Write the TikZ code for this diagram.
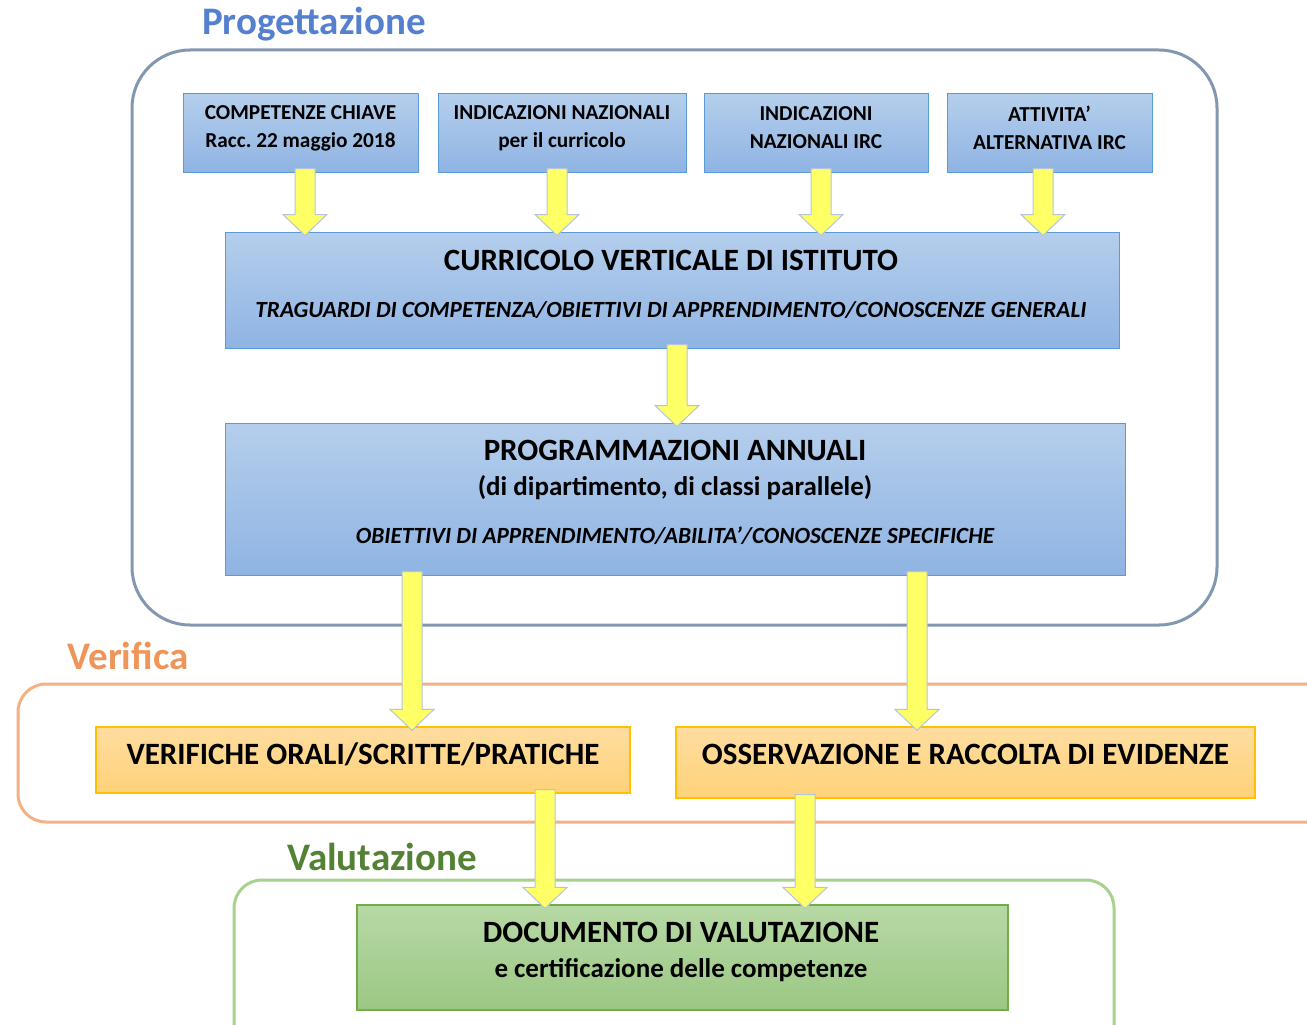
\documentclass[tikz,border=0pt]{standalone}
\usepackage{fontspec}
\setmainfont{Carlito}
\usetikzlibrary{calc}

\definecolor{progtitle}{HTML}{5580D0}
\definecolor{progline}{HTML}{8497B0}
\definecolor{veriftitle}{HTML}{F0955A}
\definecolor{verifline}{HTML}{F4B183}
\definecolor{valtitle}{HTML}{548235}
\definecolor{valline}{HTML}{A9D18E}
\definecolor{bluetop}{HTML}{B5CEEC}
\definecolor{bluebot}{HTML}{8FB4E3}
\definecolor{blueedge}{HTML}{5B9BD5}
\definecolor{orangetop}{HTML}{FFDDA0}
\definecolor{orangebot}{HTML}{FFD279}
\definecolor{orangeedge}{HTML}{FFC000}
\definecolor{greentop}{HTML}{B7D9A5}
\definecolor{greenbot}{HTML}{9BC784}
\definecolor{greenedge}{HTML}{70AD47}
\definecolor{arrowfill}{HTML}{FFFF66}
\definecolor{arrowedge}{HTML}{B4C4DC}

\tikzset{
  bluebox/.style={draw=blueedge, line width=1pt, top color=bluetop, bottom color=bluebot, rectangle, inner sep=0pt},
  orangebox/.style={draw=orangeedge, line width=1.2pt, top color=orangetop, bottom color=orangebot, rectangle, inner sep=0pt},
  greenbox/.style={draw=greenedge, line width=1.2pt, top color=greentop, bottom color=greenbot, rectangle, inner sep=0pt},
  grouptitle/.style={font=\fontsize{39}{39}\selectfont\bfseries, inner sep=0pt},
  smalltext/.style={font=\fontsize{21.3}{28}\selectfont\bfseries, align=center, inner sep=0pt},
  bigtext/.style={font=\fontsize{31}{31}\selectfont\bfseries, inner sep=0pt},
  midtext/.style={font=\fontsize{27}{27}\selectfont\bfseries, inner sep=0pt},
  ittext/.style={font=\fontsize{23.2}{23}\selectfont\bfseries\itshape, inner sep=0pt},
  yelarrow/.style={draw=arrowedge, line width=1pt, fill=arrowfill, line join=miter}
}

% block arrow at x=#1, from node anchor #2 down to node anchor #3
\newcommand{\blockarrow}[3]{%
  \draw[yelarrow] let \p1=(#2), \p2=(#3) in
    (#1pt-10pt,\y1+4pt) -- (#1pt+10pt,\y1+4pt) -- (#1pt+10pt,\y2+17pt)
    -- (#1pt+22pt,\y2+17pt) -- (#1pt,\y2-4pt) -- (#1pt-22pt,\y2+17pt)
    -- (#1pt-10pt,\y2+17pt) -- cycle;}

\begin{document}
\begin{tikzpicture}[x=1pt, y=-1pt]
\clip (0,0) rectangle (1307,1025);
\useasboundingbox (0,0) rectangle (1307,1025);
\fill[white] (0,0) rectangle (1307,1025);

% Group frames
\draw[progline, line width=3pt, rounded corners=58pt] (132,50) rectangle (1217,625);
\draw[verifline, line width=3pt, rounded corners=28pt] (18,684) rectangle (1360,822);
\draw[valline, line width=3pt, rounded corners=28pt] (234,880) rectangle (1114,1070);

% Group titles
\node[grouptitle, text=progtitle] (tprog) at (314,24) {Progettazione};
\node[grouptitle, text=veriftitle] (tverif) at (128,656) {Verifica};
\node[grouptitle, text=valtitle] (tval) at (382,857) {Valutazione};

% Sources (top row)
\node[bluebox, minimum width=235pt, minimum height=78pt] (comp) at (300.5,133) {};
\node[smalltext] (compt) at (300.5,128) {COMPETENZE CHIAVE\\Racc.\ 22 maggio 2018};
\node[bluebox, minimum width=248pt, minimum height=78pt] (indic) at (562,133) {};
\node[smalltext] (indict) at (562,128) {INDICAZIONI NAZIONALI\\per il curricolo};
\node[bluebox, minimum width=224pt, minimum height=78pt] (irc) at (816,133) {};
\node[smalltext] (irct) at (816,128) {INDICAZIONI\\NAZIONALI IRC};
\node[bluebox, minimum width=205pt, minimum height=78pt] (alt) at (1049.5,133) {};
\node[smalltext] (altt) at (1049.5,128) {ATTIVITA’\\ALTERNATIVA IRC};

% Curricolo
\node[bluebox, minimum width=894pt, minimum height=116pt] (curr) at (672,290) {};
\node[bigtext] (currt) at (671,260) {CURRICOLO VERTICALE DI ISTITUTO};
\node[ittext] (curri) at (671,310) {TRAGUARDI DI COMPETENZA/OBIETTIVI DI APPRENDIMENTO/CONOSCENZE GENERALI};

% Programmazioni
\node[bluebox, minimum width=900pt, minimum height=152pt] (prog) at (675,499) {};
\node[bigtext] (progt) at (675,450) {PROGRAMMAZIONI ANNUALI};
\node[midtext] (progs) at (675,488) {(di dipartimento, di classi parallele)};
\node[ittext] (progi) at (675,536) {OBIETTIVI DI APPRENDIMENTO/ABILITA’/CONOSCENZE SPECIFICHE};

% Verifica
\node[orangebox, minimum width=534pt, minimum height=66pt] (verif) at (363,760) {};
\node[bigtext] (veriftx) at (363,754) {VERIFICHE ORALI/SCRITTE/PRATICHE};
\node[orangebox, minimum width=579pt, minimum height=71pt] (oss) at (965.5,762.5) {};
\node[bigtext] (osstx) at (965.5,754) {OSSERVAZIONE E RACCOLTA DI EVIDENZE};

% Valutazione
\node[greenbox, minimum width=651pt, minimum height=105pt] (doc) at (682.5,957.5) {};
\node[bigtext] (doct) at (681,932) {DOCUMENTO DI VALUTAZIONE};
\node[midtext] (docs) at (681,970) {e certificazione delle competenze};

% Yellow arrows
\blockarrow{305}{comp.south}{curr.north}
\blockarrow{557}{indic.south}{curr.north}
\blockarrow{821}{irc.south}{curr.north}
\blockarrow{1043}{alt.south}{curr.north}
\blockarrow{677}{curr.south}{prog.north}
\blockarrow{412}{prog.south}{verif.north}
\blockarrow{917}{prog.south}{oss.north}
\blockarrow{545}{verif.south}{doc.north}
\blockarrow{805}{oss.south}{doc.north}

\end{tikzpicture}
\end{document}
